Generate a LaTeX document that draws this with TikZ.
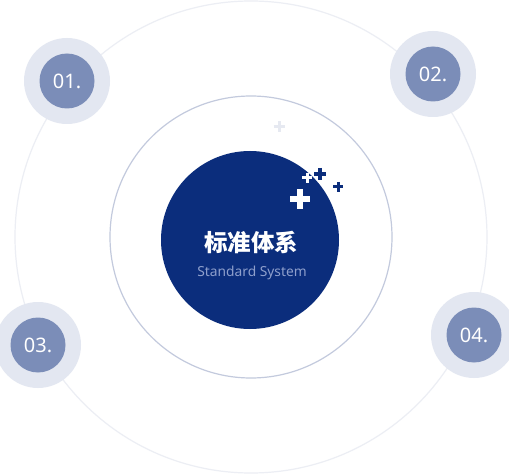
\documentclass[tikz,border=0pt]{standalone}
\usepackage{fontspec}
\setmainfont{Noto Sans}
\newfontfamily\cjk{Noto Sans CJK SC}
\definecolor{navy}{HTML}{0B2D7C}
\definecolor{satin}{HTML}{7B8DB8}
\definecolor{satout}{HTML}{E3E7F1}
\definecolor{ringout}{HTML}{ECEEF4}
\definecolor{ringmid}{HTML}{C3CADD}
\definecolor{subtxt}{HTML}{8E9FCC}
\definecolor{pluslight}{HTML}{E6E9F1}
\tikzset{
  satouter/.style={circle,fill=satout,minimum size=86pt,inner sep=0pt},
  satinner/.style={circle,fill=satin,minimum size=55pt,inner sep=0pt,text=white,font=\fontsize{20pt}{20pt}\selectfont},
  plusbar/.style={line cap=butt},
}
\newcommand{\plusmark}[5]{% x y halfsize thickness color
  \draw[#5,line width=#4pt,plusbar] (#1-#3,#2) -- (#1+#3,#2);
  \draw[#5,line width=#4pt,plusbar] (#1,#2-#3) -- (#1,#2+#3);}
\begin{document}
\begin{tikzpicture}[x=1pt,y=-1pt]
\useasboundingbox (0,0) rectangle (509,476);
\fill[white] (0,0) rectangle (509,476);
\node[circle,draw=ringout,line width=1.2pt,minimum size=472pt,inner sep=0pt] (outer) at (251,237) {};
\node[circle,draw=ringmid,line width=1.2pt,minimum size=282pt,inner sep=0pt] (middle) at (251,237) {};
\node[satouter] (s1o) at (67,81) {};
\node[satinner] (s1) at (67,81) {01.};
\node[satouter] (s2o) at (433,74) {};
\node[satinner] (s2) at (433,74) {02.};
\node[satouter] (s3o) at (38,345) {};
\node[satinner] (s3) at (38,345) {03.};
\node[satouter] (s4o) at (474,335) {};
\node[satinner] (s4) at (474,335) {04.};
\node[circle,fill=navy,minimum size=178pt,inner sep=0pt] (core) at (250,240) {};
\node[text=white,font=\cjk\bfseries\fontsize{23.5pt}{23.5pt}\selectfont] (title) at (251,242) {标准体系};
\node[text=subtxt,font=\fontsize{13.8pt}{13.8pt}\selectfont] (sub) at (252,273) {Standard System};
\begin{scope}
\clip (250,240) circle (89);
\plusmark{307}{178}{5}{3}{white}
\end{scope}
\plusmark{300}{199}{10}{6}{white}
\plusmark{320}{174}{6}{3.5}{navy}
\plusmark{338}{187}{5}{3}{navy}
\plusmark{279}{127}{5.5}{3}{pluslight}
\end{tikzpicture}
\end{document}
